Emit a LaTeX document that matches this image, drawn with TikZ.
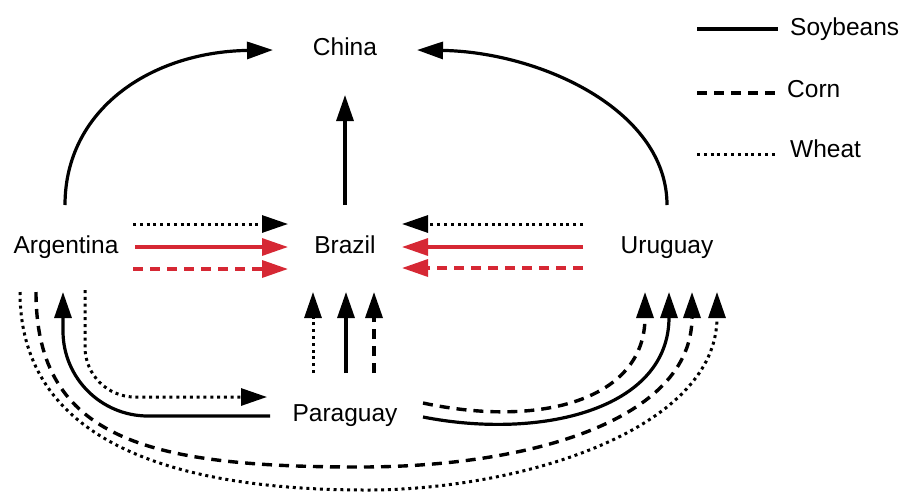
\documentclass[tikz,border=0pt]{standalone}
\usepackage{fontspec}
\setmainfont{Liberation Sans}
\usetikzlibrary{arrows.meta,calc}
\definecolor{flowred}{RGB}{214,40,52}
\begin{document}
\begin{tikzpicture}[x=1pt,y=-1pt,
  lbl/.style={inner sep=0pt, anchor=base, font=\fontsize{24.5}{28}\selectfont},
  legtxt/.style={inner sep=0pt, anchor=base west, font=\fontsize{24.5}{28}\selectfont},
  soy/.style={line width=3.2pt},
  corn/.style={line width=3.4pt, dash pattern=on 10pt off 7pt},
  wheat/.style={line width=3pt, dash pattern=on 3pt off 3.8pt},
  arr/.style={-{Triangle[length=26pt,width=17pt]}}]
\useasboundingbox (0,0) rectangle (901,493);

% countries
\node[lbl] (china)     at (345,55)  {China};
\node[lbl] (brazil)    at (345,253) {Brazil};
\node[lbl] (argentina) at (66,253)  {Argentina};
\node[lbl] (uruguay)   at (667,253) {Uruguay};
\node[lbl] (paraguay)  at (345,421) {Paraguay};

% legend
\coordinate (soyA) at (697,29);  \coordinate (soyB) at (778,29);
\coordinate (cornA) at (697,93); \coordinate (cornB) at (778,93);
\coordinate (wheatA) at (697,154); \coordinate (wheatB) at (778,154);
\draw[soy] (soyA) -- (soyB);
\draw[corn] (cornA) -- (cornB);
\draw[wheat] (wheatA) -- (wheatB);
\node[legtxt] (legsoy)   at (790,35)  {Soybeans};
\node[legtxt] (legcorn)  at (787,97)  {Corn};
\node[legtxt] (legwheat) at (790,157) {Wheat};

% exports to China
\draw[soy,arr] ($(argentina.base)+(-1,-48)$) .. controls (65,110) and (150,52) .. ($(china.base)+(-72,-5)$);
\draw[soy,arr] ($(uruguay.base)+(0,-48)$) .. controls (667,110) and (540,52) .. ($(china.base)+(72,-5)$);
\draw[soy,arr] ($(brazil.base)+(0,-48)$) -- ($(china.base)+(0,40)$);

% Argentina -> Brazil
\draw[wheat,arr] ($(argentina.base)+(67,-29)$) -- ($(brazil.base)+(-57,-29)$);
\draw[soy,flowred,arr] ($(argentina.base)+(69,-6)$) -- ($(brazil.base)+(-57,-6)$);
\draw[corn,flowred,arr] ($(argentina.base)+(67,16)$) -- ($(brazil.base)+(-57,16)$);

% Uruguay -> Brazil
\draw[wheat,arr] ($(uruguay.base)+(-84,-29)$) -- ($(brazil.base)+(57,-29)$);
\draw[soy,flowred,arr] ($(uruguay.base)+(-84,-6)$) -- ($(brazil.base)+(57,-6)$);
\draw[corn,flowred,arr] ($(uruguay.base)+(-84,15)$) -- ($(brazil.base)+(57,15)$);

% Paraguay -> Brazil
\draw[wheat,arr] ($(paraguay.base)+(-32,-48)$) -- ($(brazil.base)+(-32,39)$);
\draw[soy,arr]   ($(paraguay.base)+(1,-48)$) -- ($(brazil.base)+(1,39)$);
\draw[corn,arr]  ($(paraguay.base)+(29,-48)$) -- ($(brazil.base)+(29,39)$);

% Paraguay <-> Argentina
\draw[soy,arr,rounded corners=85pt] ($(paraguay.base)+(-75,-5)$) -| ($(argentina.base)+(-3,39)$);
\draw[wheat,arr,rounded corners=50pt] ($(argentina.base)+(19,37)$) |- ($(paraguay.base)+(-78,-24)$);

% Argentina -> Uruguay
\draw[corn,arr] ($(argentina.base)+(-30,39)$) .. controls (36,440) and (150,467) .. (360,467)
  .. controls (530,467) and (692,420) .. ($(uruguay.base)+(25,39)$);
\draw[wheat,arr] ($(argentina.base)+(-46,39)$) .. controls (20,430) and (150,490) .. (367,490)
  .. controls (520,490) and (717,430) .. ($(uruguay.base)+(50,39)$);

% Paraguay -> Uruguay
\draw[corn,arr] ($(paraguay.base)+(78,-18)$) .. controls (540,428) and (645,400) .. ($(uruguay.base)+(-22,39)$);
\draw[soy,arr]  ($(paraguay.base)+(78,-4)$) .. controls (540,440) and (669,410) .. ($(uruguay.base)+(2,39)$);
\end{tikzpicture}
\end{document}
